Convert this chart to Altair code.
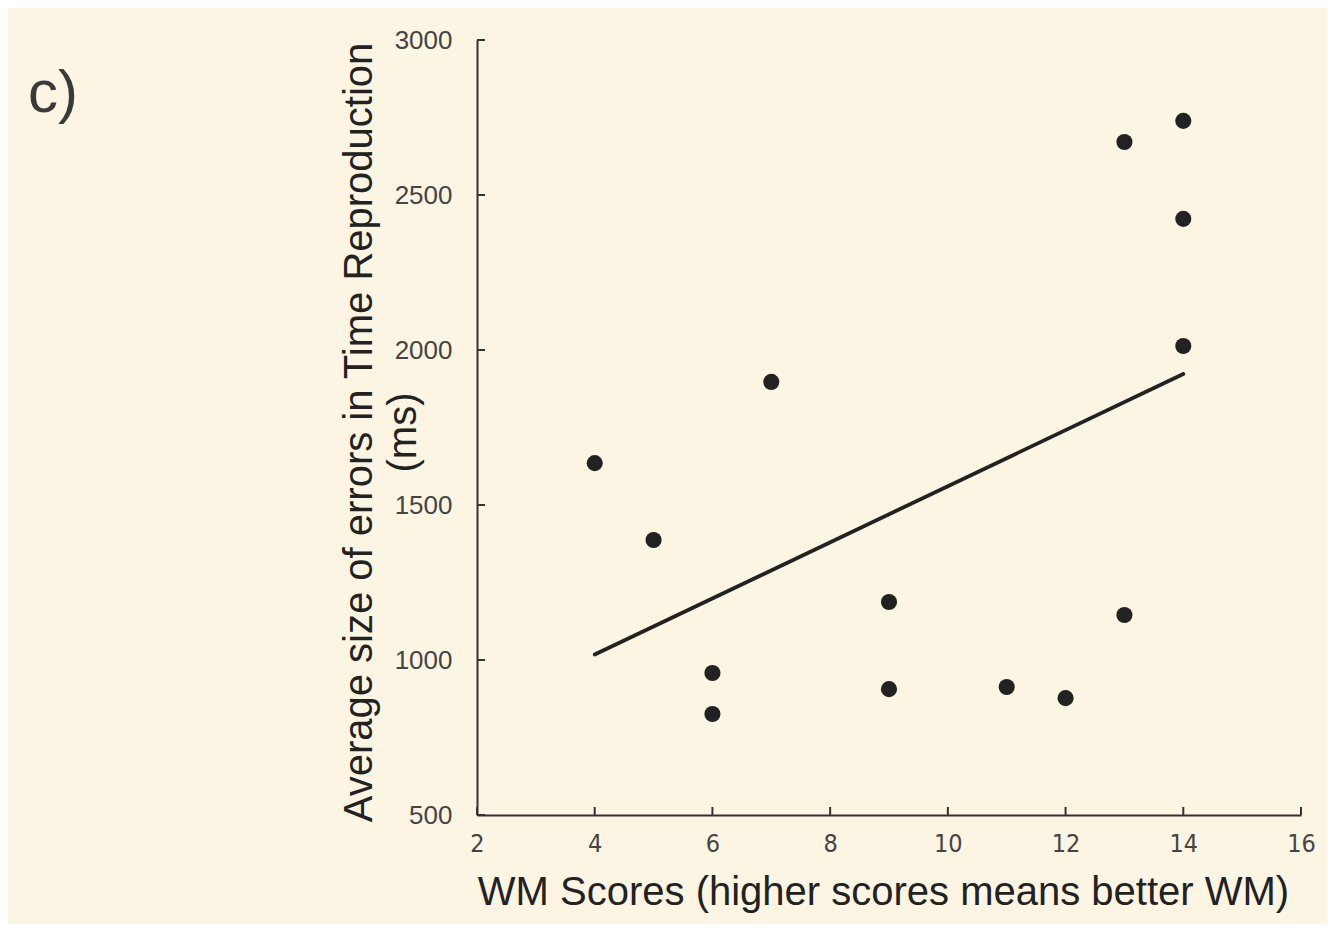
import altair as alt
import pandas as pd

wm_scores = [4, 5, 6, 6, 7, 9, 9, 11, 12, 13, 13, 14, 14, 14]
avg_errors = [1635, 1387, 958, 826, 1897, 1187, 906, 913, 877, 1145, 2671, 2739, 2423, 2013]
x_ticks = [2, 4, 6, 8, 10, 12, 14, 16]
y_ticks = [500, 1000, 1500, 2000, 2500, 3000]

df = pd.DataFrame({"wm": wm_scores, "err": avg_errors})
xt = pd.DataFrame({"t": x_ticks})
yt = pd.DataFrame({"t": y_ticks})

BG = "#FDF5E4"
INK = "#222222"

xscale = alt.Scale(domain=[2, 16], nice=False, zero=False)
yscale = alt.Scale(domain=[500, 3000], nice=False, zero=False)

x_axis = alt.Axis(
    values=x_ticks, format="d", ticks=False, grid=False, domainColor="#333333", domainWidth=2,
    labelFont="'DejaVu Sans Condensed', 'Liberation Sans', sans-serif", labelFontSize=25,
    labelColor="#444444", labelPadding=16, labelFlush=False,
    title="WM Scores (higher scores means better WM)",
    titleFont="Liberation Sans", titleFontSize=40, titleFontWeight="normal",
    titleColor=INK, titlePadding=16, titleX=406, titleAlign="center",
)
y_axis = alt.Axis(
    values=y_ticks, format="d", ticks=False, grid=False, domainColor="#333333", domainWidth=2,
    labelFont="Liberation Sans", labelFontSize=26, labelColor="#444444",
    labelPadding=25, labelFlush=False,
    title=["Average size of errors in Time Reproduction", "(ms)"],
    titleFont="Liberation Sans", titleFontSize=40, titleFontWeight="normal",
    titleColor=INK, titleAngle=270, titleBaseline="alphabetic", titleAlign="center",
    titleX=-106, titleY=392, titleLineHeight=44,
)

points = alt.Chart(df).mark_circle(size=260, color=INK, opacity=1).encode(
    x=alt.X("wm:Q", scale=xscale, axis=x_axis),
    y=alt.Y("err:Q", scale=yscale, axis=y_axis),
)

reg = alt.Chart(df).transform_regression("wm", "err").mark_line(
    color=INK, strokeWidth=3.8, strokeCap="round"
).encode(
    x=alt.X("wm:Q", scale=xscale),
    y=alt.Y("err:Q", scale=yscale),
)

ytick_marks = alt.Chart(yt).mark_rule(color="#333333", strokeWidth=2).encode(
    y=alt.Y("t:Q", scale=yscale), x=alt.value(0), x2=alt.value(8)
)
xtick_marks = alt.Chart(xt).mark_rule(color="#333333", strokeWidth=2).encode(
    x=alt.X("t:Q", scale=xscale), y=alt.value(775), y2=alt.value(767)
)

chart = alt.layer(ytick_marks, xtick_marks, reg, points).properties(
    width=824, height=775,
    title=alt.Title("c)", anchor="start", frame="group", dx=-449, dy=149,
                    fontSize=60, font="Liberation Sans", fontWeight="normal",
                    color="#3a3a3a", baseline="alphabetic"),
    autosize=alt.AutoSizeParams(type="none"),
    padding={"left": 469, "top": 32, "right": 26, "bottom": 109},
).configure(background=BG).configure_view(stroke=None)

chart.save("out.html", embed_options={"renderer": "svg", "actions": False})
